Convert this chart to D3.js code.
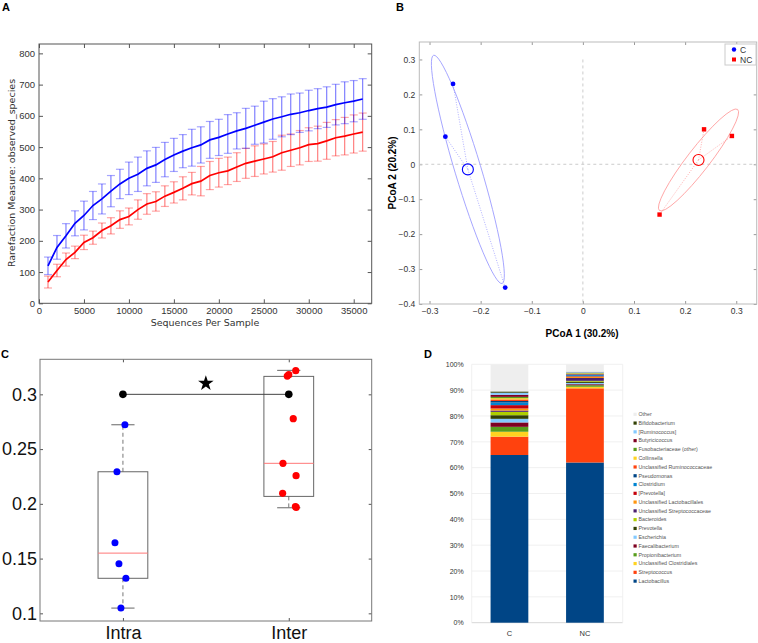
<!DOCTYPE html>
<html>
<head>
<meta charset="utf-8">
<script src="https://cdn.jsdelivr.net/npm/d3@7"></script>
<style>
body { margin: 0; background: #fff; }
svg { display: block; }
</style>
</head>
<body>
<div id="chart"></div>
<script>
// ---- A: rarefaction curves ----
var depth = [1000, 2000, 3000, 4000, 5000, 6000, 7000, 8000, 9000, 10000, 11000, 12000,
    13000, 14000, 15000, 16000, 17000, 18000, 19000, 20000, 21000, 22000, 23000, 24000,
    25000, 26000, 27000, 28000, 29000, 30000, 31000, 32000, 33000, 34000, 35000, 36000];
var meanC = [120, 179, 216, 256, 281, 313, 334, 359, 382, 400, 413, 432, 443, 460, 475, 487, 498, 507,
    523, 531, 542, 552, 560, 570, 580, 590, 597, 605, 610, 617, 623, 628, 636, 642, 647, 654];
var errC = [28, 38, 39, 40, 46, 45, 48, 50, 47, 52, 55, 56, 56, 55, 53, 53, 59, 58,
    59, 58, 62, 58, 64, 61, 67, 65, 64, 65, 63, 65, 64, 65, 65, 67, 66, 65];
var meanNC = [68, 105, 140, 163, 195, 210, 233, 248, 268, 278, 300, 318, 326, 343, 355, 368, 383, 391,
    409, 418, 424, 436, 448, 455, 462, 469, 482, 490, 498, 508, 511, 520, 530, 535, 542, 548];
var errNC = [19, 20, 21, 20, 23, 21, 24, 26, 28, 27, 31, 33, 31, 33, 34, 37, 36, 47,
    45, 46, 44, 46, 48, 49, 48, 49, 56, 52, 55, 54, 56, 59, 58, 60, 61, 61];
var seqTicks = [0, 5000, 10000, 15000, 20000, 25000, 30000, 35000];
var obsTicks = [0, 100, 200, 300, 400, 500, 600, 700, 800];

// ---- B: PCoA ----
var pcoaC = [{x: -0.254, y: 0.230}, {x: -0.269, y: 0.079}, {x: -0.152, y: -0.353}];
var pcoaNC = [{x: 0.237, y: 0.100}, {x: 0.2915, y: 0.081}, {x: 0.150, y: -0.144}];
// ellipse: a vertex of the long axis and ratio of short/long axis
var ellipseC = {vx: -0.292, vy: 0.312, ratio: 0.11};
var ellipseNC = {vx: 0.3027, vy: 0.157, ratio: 0.175};
var pcoaXTicks = [-0.3, -0.2, -0.1, 0, 0.1, 0.2, 0.3];
var pcoaYTicks = [-0.4, -0.3, -0.2, -0.1, 0, 0.1, 0.2, 0.3];

// ---- C: distances ----
var intra = [{x: 1.012, y: 0.2722}, {x: 0.964, y: 0.2293}, {x: 0.952, y: 0.1645},
    {x: 0.976, y: 0.1453}, {x: 1.018, y: 0.132}, {x: 0.988, y: 0.1048}];
var inter = [{x: 1.991, y: 0.3167}, {x: 2.000, y: 0.3180}, {x: 2.042, y: 0.3216},
    {x: 2.027, y: 0.2778}, {x: 1.965, y: 0.2370}, {x: 2.044, y: 0.2257},
    {x: 1.963, y: 0.2096}, {x: 2.045, y: 0.1968}, {x: 2.040, y: 0.1975}];
var boxStats = [
    {pos: 1, lo: 0.1048, q1: 0.132, med: 0.155, q3: 0.2293, hi: 0.2722},
    {pos: 2, lo: 0.1964, q1: 0.2068, med: 0.237, q3: 0.3164, hi: 0.3219}
];
var groupNames = ["Intra", "Inter"];
var sigLevel = 0.3, starLevel = 0.31;
var distTicks = [0.1, 0.15, 0.2, 0.25, 0.3];

// ---- D: genus composition (bottom of stack first) ----
var genera = ["Lactobacillus", "Streptococcus", "Unclassified Clostridiales", "Propionibacterium",
    "Faecalibacterium", "Escherichia", "Prevotella", "Bacteroides", "Unclassified Streptococcaceae",
    "Unclassified Lactobacillales", "[Prevotella]", "Clostridium", "Pseudomonas",
    "Unclassified Ruminococcaceae", "Collinsella", "Fusobacteriaceae (other)", "Butyricicoccus",
    "[Ruminococcus]", "Bifidobacterium", "Other"];
var genusC = [64.9, 7.1, 1.9, 1.9, 1.7, 1.4, 1.4, 1.3, 0.5, 0.8, 1.3, 1.0, 0.6, 0.6, 0.5, 0.5, 0.8, 0.8, 0.5, 10.5];
var genusNC = [62.0, 28.7, 0.6, 0.6, 0.4, 0.5, 0.5, 0.3, 1.1, 0.5, 0.2, 0.4, 0.3, 0.2, 0.2, 0.2, 0.1, 0.2, 0.1, 2.9];
var samples = ["C", "NC"];
var palette = ["#004586", "#ff420e", "#ffd320", "#579d1c", "#7e0021", "#83caff",
    "#314004", "#aecf00", "#4b1f6f", "#ff950e", "#c5000b", "#0084d1"];
var pctTicks = [0, 0.1, 0.2, 0.3, 0.4, 0.5, 0.6, 0.7, 0.8, 0.9, 1];

var svg = d3.select("#chart")
    .append("svg")
    .attr("width", 758)
    .attr("height", 643)
    .style("font-family", "Liberation Sans, Arial, sans-serif");

function letter(x, y, t) {
    svg.append("text").attr("x", x).attr("y", y)
        .style("font-size", "11px").style("font-weight", "bold").text(t);
}
letter(2, 11, "A");
letter(396, 11, "B");
letter(1, 358, "C");
letter(424, 358, "D");

// ================= A =================
var xA = d3.scaleLinear().domain([0, 37000]).range([39, 371.7]),
    yA = d3.scaleLinear().domain([0, 830]).range([303.3, 44]);
var gA = svg.append("g").style("font-family", "DejaVu Sans, sans-serif");

function styleAxis(g, color, size) {
    g.select(".domain").remove();
    g.selectAll(".tick line").attr("stroke", color);
    g.selectAll(".tick text").attr("fill", "#333").style("font-size", size).style("font-family", null);
}

gA.append("g").attr("transform", "translate(0,303.3)")
    .call(d3.axisBottom(xA).tickValues(seqTicks).tickSize(-4).tickPadding(4).tickFormat(d3.format("d")))
    .call(styleAxis, "#555", "9.5px");
gA.append("g").attr("transform", "translate(0,44)")
    .call(d3.axisTop(xA).tickValues(seqTicks).tickSize(-4).tickFormat(""))
    .call(styleAxis, "#555", "9.5px");
gA.append("g").attr("transform", "translate(39,0)")
    .call(d3.axisLeft(yA).tickValues(obsTicks).tickSize(-4).tickPadding(4))
    .call(styleAxis, "#555", "9.5px");
gA.append("g").attr("transform", "translate(371.7,0)")
    .call(d3.axisRight(yA).tickValues(obsTicks).tickSize(-4).tickFormat(""))
    .call(styleAxis, "#555", "9.5px");
gA.append("rect").attr("x", 39).attr("y", 44).attr("width", 332.7).attr("height", 259.3)
    .attr("fill", "none").attr("stroke", "#555").attr("stroke-width", 1);

var seriesA = [
    {mean: meanNC, err: errNC, color: "#ff0000"},
    {mean: meanC, err: errC, color: "#0000ff"}
];
seriesA.forEach(function (s) {
    var pts = depth.map(function (d, i) {
        return {x: d, m: s.mean[i], e: s.err[i]};
    });
    var eb = gA.append("g");
    eb.selectAll(".bar").data(pts).enter().append("line")
        .attr("x1", function (d) { return xA(d.x); })
        .attr("x2", function (d) { return xA(d.x); })
        .attr("y1", function (d) { return yA(d.m - d.e); })
        .attr("y2", function (d) { return yA(d.m + d.e); })
        .attr("stroke", s.color).attr("stroke-opacity", 0.6).attr("stroke-width", 1);
    [-1, 1].forEach(function (sgn) {
        eb.selectAll(".cap" + sgn).data(pts).enter().append("line")
            .attr("x1", function (d) { return xA(d.x) - 4; })
            .attr("x2", function (d) { return xA(d.x) + 4; })
            .attr("y1", function (d) { return yA(d.m + sgn * d.e); })
            .attr("y2", function (d) { return yA(d.m + sgn * d.e); })
            .attr("stroke", s.color).attr("stroke-opacity", 0.35).attr("stroke-width", 1.2);
    });
    s.pts = pts;
});
seriesA.forEach(function (s) {
    gA.append("path").datum(s.pts)
        .attr("fill", "none").attr("stroke", s.color).attr("stroke-width", 1.7)
        .attr("d", d3.line().x(function (d) { return xA(d.x); }).y(function (d) { return yA(d.m); }));
});
gA.append("text").attr("x", 205).attr("y", 326).attr("text-anchor", "middle")
    .attr("fill", "#333").style("font-size", "9.5px").text("Sequences Per Sample");
gA.append("text").attr("transform", "translate(15,173) rotate(-90)").attr("text-anchor", "middle")
    .attr("fill", "#333").style("font-size", "9.5px").text("Rarefaction Measure: observed_species");

// ================= B =================
var xB = d3.scaleLinear().domain([-0.32, 0.34]).range([419.3, 756.7]),
    yB = d3.scaleLinear().domain([-0.4, 0.35]).range([304, 42]);
var gB = svg.append("g");
var fmtB = function (d) { return d === 0 ? "0" : d3.format(".1f")(d); };

gB.append("g").attr("transform", "translate(0,304)")
    .call(d3.axisBottom(xB).tickValues(pcoaXTicks).tickSize(-3).tickPadding(4).tickFormat(fmtB))
    .call(styleAxis, "#999", "8.5px");
gB.append("g").attr("transform", "translate(0,42)")
    .call(d3.axisTop(xB).tickValues(pcoaXTicks).tickSize(-3).tickFormat(""))
    .call(styleAxis, "#999", "8.5px");
gB.append("g").attr("transform", "translate(419.3,0)")
    .call(d3.axisLeft(yB).tickValues(pcoaYTicks).tickSize(-3).tickPadding(4).tickFormat(fmtB))
    .call(styleAxis, "#999", "8.5px");
gB.append("g").attr("transform", "translate(756.7,0)")
    .call(d3.axisRight(yB).tickValues(pcoaYTicks).tickSize(-3).tickFormat(""))
    .call(styleAxis, "#999", "8.5px");
gB.append("rect").attr("x", 419.3).attr("y", 42).attr("width", 337.4).attr("height", 262)
    .attr("fill", "none").attr("stroke", "#bbb");

gB.append("line").attr("x1", xB(0)).attr("x2", xB(0)).attr("y1", yB(0.3)).attr("y2", 304)
    .attr("stroke", "#ccc").attr("stroke-dasharray", "3,3");
gB.append("line").attr("x1", 419.3).attr("x2", 756.7).attr("y1", yB(0)).attr("y2", yB(0))
    .attr("stroke", "#ccc").attr("stroke-dasharray", "3,3");

var groupsB = [
    {pts: pcoaC, ell: ellipseC, color: "#0000ff", light: "#9a9aff", shape: "circle"},
    {pts: pcoaNC, ell: ellipseNC, color: "#ff0000", light: "#ff9a9a", shape: "square"}
];
groupsB.forEach(function (g) {
    var cx = d3.mean(g.pts, function (d) { return d.x; }),
        cy = d3.mean(g.pts, function (d) { return d.y; });
    var pcx = xB(cx), pcy = yB(cy),
        dx = xB(g.ell.vx) - pcx, dy = yB(g.ell.vy) - pcy;
    var a = Math.sqrt(dx * dx + dy * dy),
        ang = Math.atan2(dy, dx) * 180 / Math.PI;
    gB.append("ellipse").attr("cx", pcx).attr("cy", pcy)
        .attr("rx", a).attr("ry", a * g.ell.ratio)
        .attr("transform", "rotate(" + ang + "," + pcx + "," + pcy + ")")
        .attr("fill", "none").attr("stroke", g.light).attr("stroke-width", 0.8);
    gB.selectAll(null).data(g.pts).enter().append("line")
        .attr("x1", pcx).attr("y1", pcy)
        .attr("x2", function (d) { return xB(d.x); })
        .attr("y2", function (d) { return yB(d.y); })
        .attr("stroke", g.light).attr("stroke-width", 0.8).attr("stroke-dasharray", "1,1.5");
    gB.append("circle").attr("cx", pcx).attr("cy", pcy).attr("r", 5.5)
        .attr("fill", "none").attr("stroke", g.color).attr("stroke-width", 1.1);
    if (g.shape === "circle") {
        gB.selectAll(null).data(g.pts).enter().append("circle")
            .attr("cx", function (d) { return xB(d.x); })
            .attr("cy", function (d) { return yB(d.y); })
            .attr("r", 2.4).attr("fill", g.color);
    } else {
        gB.selectAll(null).data(g.pts).enter().append("rect")
            .attr("x", function (d) { return xB(d.x) - 2.2; })
            .attr("y", function (d) { return yB(d.y) - 2.2; })
            .attr("width", 4.4).attr("height", 4.4).attr("fill", g.color);
    }
});

var legB = gB.append("g").attr("transform", "translate(725,44)");
legB.append("rect").attr("width", 31).attr("height", 21).attr("fill", "#fff").attr("stroke", "#ccc");
legB.append("circle").attr("cx", 9).attr("cy", 5.5).attr("r", 2.2).attr("fill", "#0000ff");
legB.append("rect").attr("x", 7).attr("y", 13.5).attr("width", 4).attr("height", 4).attr("fill", "#ff0000");
legB.append("text").attr("x", 15).attr("y", 8.5).style("font-size", "8.5px").attr("fill", "#333").text("C");
legB.append("text").attr("x", 15).attr("y", 18.5).style("font-size", "8.5px").attr("fill", "#333").text("NC");

gB.append("text").attr("x", 582).attr("y", 337).attr("text-anchor", "middle")
    .style("font-size", "10px").style("font-weight", "bold").text("PCoA 1 (30.2%)");
gB.append("text").attr("transform", "translate(396,173) rotate(-90)").attr("text-anchor", "middle")
    .style("font-size", "10px").style("font-weight", "bold").text("PCoA 2 (20.2%)");

// ================= C =================
var xC = d3.scaleLinear().domain([0.5, 2.5]).range([40, 371.7]),
    yC = d3.scaleLinear().domain([0.093, 0.332]).range([621, 359.3]);
var gC = svg.append("g");

gC.append("g").attr("transform", "translate(0,621)")
    .call(d3.axisBottom(xC).tickValues([1, 2]).tickSize(-3).tickPadding(5)
        .tickFormat(function (d, i) { return groupNames[i]; }))
    .call(styleAxis, "#555", "18px");
gC.append("g").attr("transform", "translate(0,359.3)")
    .call(d3.axisTop(xC).tickValues([1, 2]).tickSize(-3).tickFormat(""))
    .call(styleAxis, "#555", "18px");
gC.append("g").attr("transform", "translate(40,0)")
    .call(d3.axisLeft(yC).tickValues(distTicks).tickSize(-3).tickPadding(3).tickFormat(String))
    .call(styleAxis, "#555", "18px");
gC.append("g").attr("transform", "translate(371.7,0)")
    .call(d3.axisRight(yC).tickValues(distTicks).tickSize(-3).tickFormat(""))
    .call(styleAxis, "#555", "18px");
gC.selectAll(".tick text").attr("fill", "#111");
gC.append("rect").attr("x", 40).attr("y", 359.3).attr("width", 331.7).attr("height", 261.7)
    .attr("fill", "none").attr("stroke", "#777");

var boxW = 0.3, capW = 0.14;
var bx = gC.selectAll(".box").data(boxStats).enter().append("g");
bx.append("line")
    .attr("x1", function (d) { return xC(d.pos); }).attr("x2", function (d) { return xC(d.pos); })
    .attr("y1", function (d) { return yC(d.q3); }).attr("y2", function (d) { return yC(d.hi); })
    .attr("stroke", "#777").attr("stroke-dasharray", "4,3");
bx.append("line")
    .attr("x1", function (d) { return xC(d.pos); }).attr("x2", function (d) { return xC(d.pos); })
    .attr("y1", function (d) { return yC(d.q1); }).attr("y2", function (d) { return yC(d.lo); })
    .attr("stroke", "#777").attr("stroke-dasharray", "4,3");
["lo", "hi"].forEach(function (k) {
    bx.append("line")
        .attr("x1", function (d) { return xC(d.pos - capW / 2); })
        .attr("x2", function (d) { return xC(d.pos + capW / 2); })
        .attr("y1", function (d) { return yC(d[k]); }).attr("y2", function (d) { return yC(d[k]); })
        .attr("stroke", "#666");
});
bx.append("rect")
    .attr("x", function (d) { return xC(d.pos - boxW / 2); })
    .attr("width", xC(1 + boxW) - xC(1))
    .attr("y", function (d) { return yC(d.q3); })
    .attr("height", function (d) { return yC(d.q1) - yC(d.q3); })
    .attr("fill", "none").attr("stroke", "#666");
bx.append("line")
    .attr("x1", function (d) { return xC(d.pos - boxW / 2); })
    .attr("x2", function (d) { return xC(d.pos + boxW / 2); })
    .attr("y1", function (d) { return yC(d.med); }).attr("y2", function (d) { return yC(d.med); })
    .attr("stroke", "#f77");

gC.append("line").attr("x1", xC(1)).attr("x2", xC(2)).attr("y1", yC(sigLevel)).attr("y2", yC(sigLevel))
    .attr("stroke", "#444");
gC.selectAll(".sig").data([1, 2]).enter().append("circle")
    .attr("cx", function (d) { return xC(d); }).attr("cy", yC(sigLevel)).attr("r", 3.8).attr("fill", "#000");
gC.append("path").attr("d", d3.symbol(d3.symbolStar, 75)())
    .attr("transform", "translate(" + xC(1.5) + "," + yC(starLevel) + ")").attr("fill", "#000");

gC.selectAll(".intra").data(intra).enter().append("circle")
    .attr("cx", function (d) { return xC(d.x); }).attr("cy", function (d) { return yC(d.y); })
    .attr("r", 3.5).attr("fill", "#0000ff");
gC.selectAll(".inter").data(inter).enter().append("circle")
    .attr("cx", function (d) { return xC(d.x); }).attr("cy", function (d) { return yC(d.y); })
    .attr("r", 3.6).attr("fill", "#ff0000");

// ================= D =================
var xD = d3.scaleBand().domain(samples).range([471.7, 622.7]).paddingInner(0.5).paddingOuter(0.25),
    yD = d3.scaleLinear().domain([0, 1]).range([622.7, 364.3]);
var gD = svg.append("g");
var colorOf = function (i) { return genera[i] === "Other" ? "#eeeeee" : palette[i % palette.length]; };

gD.selectAll(".grid").data(pctTicks).enter().append("line")
    .attr("x1", 471.7).attr("x2", 622.7)
    .attr("y1", function (d) { return yD(d); }).attr("y2", function (d) { return yD(d); })
    .attr("stroke", function (d) { return d === 0 ? "#ccc" : "#ececec"; }).attr("stroke-width", 0.8);
gD.append("line").attr("x1", 471.7).attr("x2", 471.7).attr("y1", yD(1)).attr("y2", yD(0))
    .attr("stroke", "#ececec").attr("stroke-width", 0.8);
gD.append("line").attr("x1", 622.7).attr("x2", 622.7).attr("y1", yD(1)).attr("y2", yD(0))
    .attr("stroke", "#ececec").attr("stroke-width", 0.8);

var tableD = samples.map(function (s, j) {
    var vals = j === 0 ? genusC : genusNC, row = {sample: s};
    genera.forEach(function (g, i) { row[g] = vals[i] / 100; });
    return row;
});
var stackD = d3.stack().keys(genera)(tableD);
gD.selectAll(".layer").data(stackD).enter().append("g")
    .attr("fill", function (d, i) { return colorOf(i); })
    .selectAll("rect").data(function (d) { return d; }).enter().append("rect")
    .attr("x", function (d) { return xD(d.data.sample); })
    .attr("width", xD.bandwidth())
    .attr("y", function (d) { return yD(d[1]); })
    .attr("height", function (d) { return yD(d[0]) - yD(d[1]); });

gD.append("g").attr("transform", "translate(471.7,0)")
    .call(d3.axisLeft(yD).tickValues(pctTicks).tickSize(0).tickPadding(8).tickFormat(d3.format(".0%")))
    .call(styleAxis, "#ccc", "7px");
gD.append("g").attr("transform", "translate(0,622.7)")
    .call(d3.axisBottom(xD).tickSize(0).tickPadding(8))
    .call(styleAxis, "#ccc", "7.5px");

var legD = gD.selectAll(".leg").data(genera.slice().reverse()).enter().append("g")
    .attr("transform", function (d, i) { return "translate(633.5," + (414.3 + i * 8.78) + ")"; });
legD.append("rect").attr("x", 0).attr("y", -1.6).attr("width", 3.2).attr("height", 3.2)
    .attr("fill", function (d) { return colorOf(genera.indexOf(d)); });
legD.append("text").attr("x", 5).attr("y", 1.8).attr("fill", "#555")
    .style("font-size", "5.3px").text(String);
</script>
</body>
</html>
